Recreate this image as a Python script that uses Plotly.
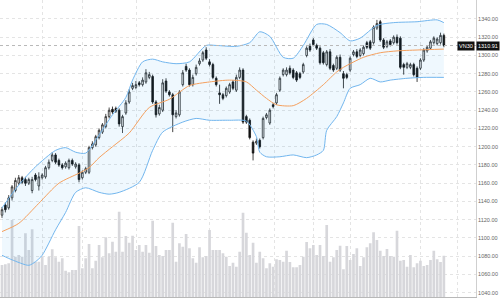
import plotly.graph_objects as go

# ---------------- data ----------------
idx = list(range(133))
opens = [1125,1136,1133,1144,1152,1160,1166,1164,1160,1152,
         1169,1157,1166,1167,1177,1185,1191,1185,1180,1178,
         1177,1185,1178,1180,1166,1172,1172,1199,1202,1210,
         1216,1222,1233,1241,1242,1240,1222,1237,1249,1264,
         1265,1270,1268,1271,1276,1277,1249,1236,1240,1272,
         1260,1257,1233,1235,1268,1288,1284,1268,1280,1291,
         1295,1306,1293,1290,1275,1259,1257,1256,1260,1271,
         1262,1276,1284,1233,1229,1205,1204,1207,1210,1232,
         1226,1246,1248,1262,1279,1279,1286,1284,1281,1280,
         1282,1300,1310,1317,1311,1308,1303,1290,1304,1289,
         1286,1298,1280,1279,1284,1301,1304,1300,1302,1314,
         1315,1314,1330,1337,1317,1310,1316,1314,1320,1319,
         1290,1287,1287,1290,1286,1286,1295,1305,1308,1314,
         1313,1314,1322]
closes = [1131,1131,1144,1156,1163,1166,1161,1160,1164,1164,
          1164,1167,1169,1177,1183,1191,1183,1180,1177,1182,
          1185,1181,1181,1164,1172,1176,1199,1203,1211,1218,
          1224,1233,1240,1238,1239,1225,1233,1248,1260,1267,
          1268,1268,1273,1281,1279,1249,1235,1243,1270,1261,
          1257,1235,1237,1260,1281,1284,1268,1276,1287,1294,
          1303,1297,1290,1276,1268,1257,1253,1264,1268,1264,
          1276,1284,1227,1227,1210,1193,1206,1200,1231,1235,
          1240,1244,1257,1275,1284,1284,1281,1276,1273,1276,
          1290,1308,1306,1312,1308,1292,1292,1304,1286,1284,
          1298,1284,1275,1276,1297,1304,1299,1306,1309,1309,
          1308,1331,1335,1317,1309,1315,1312,1320,1314,1287,
          1287,1291,1290,1279,1276,1295,1306,1309,1315,1319,
          1318,1322,1310.91]
highs = [1134,1139,1147,1158,1166,1169,1168,1167,1166,1167,
         1171,1172,1171,1179,1186,1194,1193,1187,1182,1184,
         1187,1187,1183,1182,1174,1178,1201,1206,1213,1220,
         1226,1236,1243,1244,1244,1242,1235,1251,1263,1270,
         1272,1272,1276,1285,1282,1279,1251,1246,1274,1275,
         1262,1259,1240,1262,1284,1291,1286,1279,1290,1297,
         1305,1309,1296,1292,1277,1268,1259,1266,1270,1273,
         1279,1287,1286,1235,1231,1207,1209,1209,1233,1237,
         1242,1248,1259,1277,1286,1287,1289,1286,1283,1282,
         1292,1310,1313,1319,1313,1310,1305,1306,1307,1291,
         1300,1301,1283,1281,1299,1306,1307,1308,1311,1316,
         1317,1333,1339,1339,1319,1317,1318,1322,1323,1321,
         1292,1293,1292,1292,1288,1297,1308,1311,1317,1321,
         1320,1325,1324]
lows = [1122,1128,1131,1141,1150,1158,1159,1157,1158,1149,
        1162,1152,1164,1165,1175,1183,1181,1178,1175,1176,
        1175,1179,1176,1161,1164,1170,1170,1197,1200,1208,
        1214,1220,1231,1236,1237,1222,1215,1235,1247,1262,
        1263,1266,1266,1269,1274,1247,1232,1234,1238,1259,
        1255,1216,1231,1233,1266,1282,1266,1266,1278,1289,
        1293,1295,1288,1274,1266,1247,1251,1254,1258,1262,
        1260,1274,1225,1225,1208,1185,1202,1198,1208,1230,
        1224,1242,1246,1260,1277,1277,1279,1274,1271,1274,
        1280,1298,1304,1310,1306,1290,1290,1288,1284,1282,
        1284,1282,1264,1274,1282,1299,1297,1298,1300,1307,
        1306,1312,1328,1315,1307,1308,1310,1312,1312,1285,
        1279,1285,1285,1277,1271,1284,1293,1303,1306,1312,
        1311,1312,1309]
volumes = [128,131,135,308,161,168,161,255,188,271,
           141,141,161,128,161,191,159,141,155,105,
           99,108,108,284,115,155,212,115,145,208,
           159,239,175,221,181,341,181,244,217,245,
           188,208,181,208,177,305,204,168,164,188,
           188,297,141,215,201,252,195,155,137,199,
           159,164,268,188,188,188,175,161,124,137,
           121,181,337,257,168,217,137,181,155,115,
           135,121,151,148,141,185,140,119,119,128,
           161,220,195,208,168,208,164,
           288,141,159,188,205,111,204,148,172,195,
           124,159,199,215,259,228,185,164,192,164,
           161,265,145,148,121,168,119,135,145,124,
           128,148,185,151,140,165]

# Bollinger band readings (candle index, value)
upper_x = [0,5,10,16,19,22,25,29,33,37,39,42,45,48,52,56,61,64,70,74,77,80,84,87,90,94,97,101,104,107,112,117,124,130,132]
upper_y = [1133,1158,1178,1196,1199,1194,1193,1213,1235,1254,1273,1293,1296,1293,1291,1293,1311,1311,1310,1314,1326,1321,1298,1297,1311,1334,1334,1325,1316,1319,1333,1336,1337,1339,1336]
lower_x = [0,3,8,10,12,16,19,22,25,29,32,35,41,45,48,54,58,62,68,73,76,77,79,83,87,91,94,96,97,100,102,104,107,110,113,116,121,126,132]
lower_y = [1081,1076,1070,1074,1081,1109,1128,1150,1155,1150,1148,1150,1161,1196,1216,1227,1231,1229,1229,1228,1211,1194,1189,1189,1191,1188,1191,1196,1218,1233,1248,1264,1268,1275,1271,1273,1275,1276,1276]
mid_x = [0,5,11,17,23,26,29,33,38,44,50,56,62,68,73,76,79,82,87,91,96,100,102,108,113,118,124,132]
mid_y = [1107,1116,1138,1160,1171,1177,1188,1200,1215,1243,1252,1267,1271,1273,1271,1262,1253,1246,1245,1253,1268,1282,1287,1298,1303,1305,1306,1307]

x_grid = [12, 24, 40.3, 62.1, 81.5, 93, 104, 125, 136.2]
price_ticks = list(range(1040, 1361, 20))
symbol = "VN30"
last_price = 1310.91

# ---------------- figure ----------------
fig = go.Figure()

fig.add_trace(go.Bar(x=idx, y=volumes, marker=dict(color="#d7d7db", line=dict(width=0)),
                     width=0.8, yaxis="y", hoverinfo="skip"))

fig.add_trace(go.Scatter(x=lower_x, y=lower_y, mode="lines", yaxis="y2",
                         line=dict(color="#72b6ee", width=1, shape="spline", smoothing=0.7)))
fig.add_trace(go.Scatter(x=upper_x, y=upper_y, mode="lines", yaxis="y2",
                         line=dict(color="#72b6ee", width=1, shape="spline", smoothing=0.7),
                         fill="tonexty", fillcolor="rgba(33,150,243,0.07)"))
fig.add_trace(go.Scatter(x=mid_x, y=mid_y, mode="lines", yaxis="y2",
                         line=dict(color="#f5a05e", width=1, shape="spline", smoothing=0.7)))

fig.add_trace(go.Candlestick(x=idx, open=opens, high=highs, low=lows, close=closes,
                             name=symbol, yaxis="y2",
                             increasing=dict(line=dict(color="#222222", width=0.8), fillcolor="#ffffff"),
                             decreasing=dict(line=dict(color="#111111", width=0.8), fillcolor="#111111")))

fig.add_shape(type="line", xref="paper", yref="y2", x0=0, x1=1, y0=last_price, y1=last_price,
              line=dict(color="#b8b8b8", width=1, dash="dot"))

fig.add_annotation(xref="paper", yref="y2", x=1.0, y=last_price, text=f"{last_price:.2f}",
                   xanchor="left", yanchor="middle", showarrow=False, bgcolor="#111111",
                   font=dict(color="#ffffff", size=5.5), borderpad=1)
fig.add_annotation(xref="paper", yref="y2", x=0.998, y=last_price, text=symbol,
                   xanchor="right", yanchor="middle", showarrow=False, bgcolor="#111111",
                   font=dict(color="#ffffff", size=5.5), borderpad=1)

fig.update_layout(
    width=501, height=300,
    margin=dict(l=0, r=25, t=0, b=3),
    paper_bgcolor="#ffffff", plot_bgcolor="#ffffff",
    showlegend=False,
    font=dict(family="Liberation Sans, Arial, sans-serif"),
    xaxis=dict(range=[-0.6, 141.6], tickmode="array", tickvals=x_grid, showticklabels=False,
               showgrid=True, gridcolor="#e4e4e4", griddash="dot", gridwidth=1,
               zeroline=False, showline=True, linecolor="#b8b8b8", linewidth=1,
               rangeslider=dict(visible=False), ticks=""),
    yaxis=dict(range=[0, 1188], visible=False, fixedrange=True),
    yaxis2=dict(overlaying="y", side="right", range=[1035.3, 1360.8],
                tickmode="array", tickvals=price_ticks, tickformat=".2f",
                showgrid=True, gridcolor="#e4e4e4", griddash="dot", gridwidth=1,
                zeroline=False, showline=True, linecolor="#cfcfcf", linewidth=1,
                ticks="", tickfont=dict(size=5.5, color="#666666")),
)

fig.write_html("out.html")
